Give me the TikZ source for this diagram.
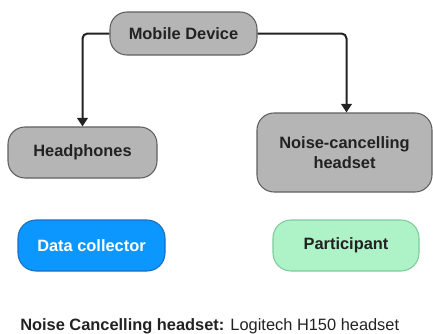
\documentclass[tikz,border=0pt]{standalone}
\usepackage{fontspec}
\setmainfont{Liberation Sans}
\usetikzlibrary{arrows.meta}
\definecolor{boxgray}{HTML}{B5B5B5}
\definecolor{boxline}{HTML}{606060}
\definecolor{bluefill}{HTML}{0B97FF}
\definecolor{blueline}{HTML}{1A6FC4}
\definecolor{greenfill}{HTML}{AEF2C8}
\definecolor{greenline}{HTML}{7DCB9A}
\definecolor{ink}{HTML}{222222}
\tikzset{
  device/.style={draw=boxline, fill=boxgray, rounded corners=17*0.75pt, line width=0.8pt,
    text=ink, font=\bfseries\fontsize{12.3pt}{15.5pt}\selectfont, align=center, inner sep=0pt},
  role/.style={rounded corners=18*0.75pt, line width=0.8pt, inner sep=0pt,
    font=\bfseries\fontsize{12.3pt}{15pt}\selectfont},
  link/.style={draw=ink, line width=1.5pt, rounded corners=5*0.75pt,
    -{Triangle[length=6.5pt,width=8pt]}},
}
\begin{document}
\begin{tikzpicture}[x=0.75pt, y=-0.75pt]
\useasboundingbox (0,0) rectangle (433,333);
\node[device, minimum width=147*0.75pt, minimum height=43*0.75pt] (mobile) at (183.5,33.5) {Mobile Device};
\node[device, minimum width=149*0.75pt, minimum height=51*0.75pt] (head) at (82.5,152.5) {Headphones};
\node[device, minimum width=175*0.75pt, minimum height=79*0.75pt] (nch) at (344.5,152.5) {Noise-cancelling\\headset};
\node[role, draw=blueline, fill=bluefill, text=white, minimum width=147*0.75pt, minimum height=51*0.75pt] (dc) at (91.5,245.5) {Data collector};
\node[role, draw=greenline, fill=greenfill, text=ink, minimum width=146*0.75pt, minimum height=51*0.75pt] (part) at (346,245.5) {Participant};
\node[anchor=base west, inner sep=0pt, text=ink, font=\fontsize{12.3pt}{15pt}\selectfont] (note) at (20,330.5)
  {\textbf{Noise Cancelling headset:} Logitech H150 headset};
\draw[link] (mobile.west) -| (head.north);
\draw[link] (mobile.east) -| ([xshift=2*0.75pt]nch.north);
\end{tikzpicture}
\end{document}
